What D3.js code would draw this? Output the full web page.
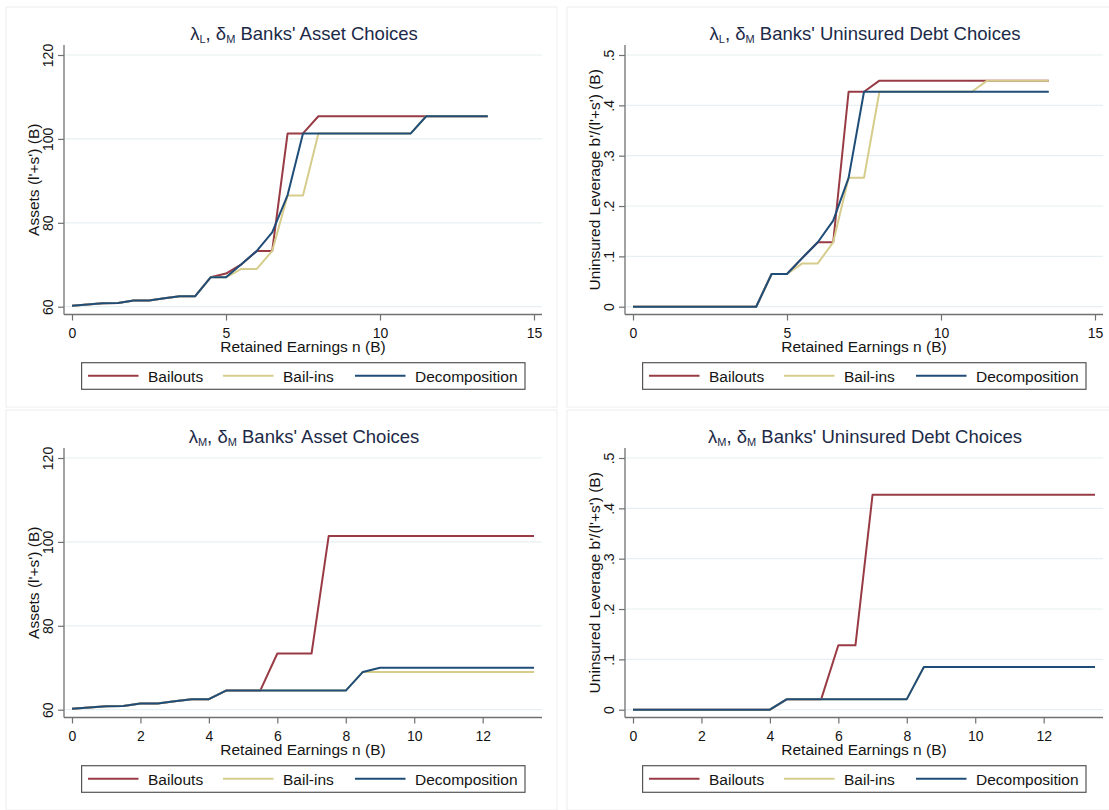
<!DOCTYPE html>
<html>
<head>
<meta charset="utf-8">
<script src="https://cdn.jsdelivr.net/npm/d3@7"></script>
<style>
  html, body { margin: 0; padding: 0; background: #ffffff; }
  svg text { font-family: "Liberation Sans", Arial, sans-serif; }
</style>
</head>
<body>
<script>
// Retained earnings grid (B)
const earnings = [0, 0.5, 1, 1.5, 2, 2.5, 3, 3.5, 4, 4.5, 5, 5.5, 6, 6.5, 7, 7.5,
                  8, 8.5, 9, 9.5, 10, 10.5, 11, 11.5, 12, 12.5, 13, 13.5];

const seriesNames = ["Bailouts", "Bail-ins", "Decomposition"];
const seriesColors = ["#983b44", "#d6cc8c", "#1f4d77"];

// λL, δM banks: assets (l'+s')
const assetsL_bailouts = [60.2, 60.5, 60.8, 60.9, 61.5, 61.5, 62.0, 62.5, 62.5, 67.0, 67.9, 70.1, 73.3, 73.3,
                          101.3, 101.3, 105.4, 105.4, 105.4, 105.4, 105.4, 105.4, 105.4, 105.4, 105.4, 105.4, 105.4, 105.4];
const assetsL_bailins  = [60.2, 60.5, 60.8, 60.9, 61.5, 61.5, 62.0, 62.5, 62.5, 67.0, 67.0, 69.0, 69.0, 73.3,
                          86.5, 86.5, 101.3, 101.3, 101.3, 101.3, 101.3, 101.3, 101.3, 105.4, 105.4, 105.4, 105.4, 105.4];
const assetsL_decomp   = [60.2, 60.5, 60.8, 60.9, 61.5, 61.5, 62.0, 62.5, 62.5, 67.0, 67.0, 70.1, 73.3, 77.7,
                          86.6, 101.3, 101.3, 101.3, 101.3, 101.3, 101.3, 101.3, 101.3, 105.4, 105.4, 105.4, 105.4, 105.4];

// λL, δM banks: uninsured leverage b'/(l'+s')
const debtL_bailouts = [0, 0, 0, 0, 0, 0, 0, 0, 0, 0.065, 0.065, 0.097, 0.128, 0.128,
                        0.427, 0.427, 0.449, 0.449, 0.449, 0.449, 0.449, 0.449, 0.449, 0.449, 0.449, 0.449, 0.449, 0.449];
const debtL_bailins  = [0, 0, 0, 0, 0, 0, 0, 0, 0, 0.065, 0.065, 0.086, 0.086, 0.128,
                        0.256, 0.256, 0.427, 0.427, 0.427, 0.427, 0.427, 0.427, 0.427, 0.449, 0.449, 0.449, 0.449, 0.449];
const debtL_decomp   = [0, 0, 0, 0, 0, 0, 0, 0, 0, 0.065, 0.065, 0.097, 0.128, 0.171,
                        0.256, 0.427, 0.427, 0.427, 0.427, 0.427, 0.427, 0.427, 0.427, 0.427, 0.427, 0.427, 0.427, 0.427];

// λM, δM banks: assets (l'+s')
const assetsM_bailouts = [60.2, 60.5, 60.8, 60.9, 61.5, 61.5, 62.0, 62.5, 62.5, 64.55, 64.55, 64.55, 73.4, 73.4,
                          73.4, 101.4, 101.4, 101.4, 101.4, 101.4, 101.4, 101.4, 101.4, 101.4, 101.4, 101.4, 101.4, 101.4];
const assetsM_bailins  = [60.2, 60.5, 60.8, 60.9, 61.5, 61.5, 62.0, 62.5, 62.5, 64.55, 64.55, 64.55, 64.55, 64.55,
                          64.55, 64.55, 64.55, 69.0, 69.0, 69.0, 69.0, 69.0, 69.0, 69.0, 69.0, 69.0, 69.0, 69.0];
const assetsM_decomp   = [60.2, 60.5, 60.8, 60.9, 61.5, 61.5, 62.0, 62.5, 62.5, 64.55, 64.55, 64.55, 64.55, 64.55,
                          64.55, 64.55, 64.55, 69.0, 70.0, 70.0, 70.0, 70.0, 70.0, 70.0, 70.0, 70.0, 70.0, 70.0];

// λM, δM banks: uninsured leverage b'/(l'+s')
const debtM_bailouts = [0, 0, 0, 0, 0, 0, 0, 0, 0, 0.021, 0.021, 0.021, 0.128, 0.128,
                        0.427, 0.427, 0.427, 0.427, 0.427, 0.427, 0.427, 0.427, 0.427, 0.427, 0.427, 0.427, 0.427, 0.427];
const debtM_bailins  = [0, 0, 0, 0, 0, 0, 0, 0, 0, 0.021, 0.021, 0.021, 0.021, 0.021,
                        0.021, 0.021, 0.021, 0.085, 0.085, 0.085, 0.085, 0.085, 0.085, 0.085, 0.085, 0.085, 0.085, 0.085];
const debtM_decomp   = [0, 0, 0, 0, 0, 0, 0, 0, 0, 0.021, 0.021, 0.021, 0.021, 0.021,
                        0.021, 0.021, 0.021, 0.085, 0.085, 0.085, 0.085, 0.085, 0.085, 0.085, 0.085, 0.085, 0.085, 0.085];

// Axis ticks
const xTicksWide = [0, 5, 10, 15];
const xTicksNarrow = [0, 2, 4, 6, 8, 10, 12];
const assetTicks = [60, 80, 100, 120];
const assetTickLabels = ["60", "80", "100", "120"];
const debtTicks = [0, 0.1, 0.2, 0.3, 0.4, 0.5];
const debtTickLabels = ["0", ".1", ".2", ".3", ".4", ".5"];

const assetTitle = "Assets (l'+s') (B)";
const debtTitle = "Uninsured Leverage b'/(l'+s') (B)";
const xTitle = "Retained Earnings n (B)";

const panels = [
  { dx: 0,   dy: 0,   lam: "L", kind: "Asset Choices", xMax: 15, xTicks: xTicksWide,
    yDomain: [60, 120], yTicks: assetTicks, yLabels: assetTickLabels, yTitle: assetTitle,
    series: [assetsL_bailouts, assetsL_bailins, assetsL_decomp] },
  { dx: 561, dy: 0,   lam: "L", kind: "Uninsured Debt Choices", xMax: 15, xTicks: xTicksWide,
    yDomain: [0, 0.5], yTicks: debtTicks, yLabels: debtTickLabels, yTitle: debtTitle,
    series: [debtL_bailouts, debtL_bailins, debtL_decomp] },
  { dx: 0,   dy: 403, lam: "M", kind: "Asset Choices", xMax: 13.5, xTicks: xTicksNarrow,
    yDomain: [60, 120], yTicks: assetTicks, yLabels: assetTickLabels, yTitle: assetTitle,
    series: [assetsM_bailouts, assetsM_bailins, assetsM_decomp] },
  { dx: 561, dy: 403, lam: "M", kind: "Uninsured Debt Choices", xMax: 13.5, xTicks: xTicksNarrow,
    yDomain: [0, 0.5], yTicks: debtTicks, yLabels: debtTickLabels, yTitle: debtTitle,
    series: [debtM_bailouts, debtM_bailins, debtM_decomp] }
];

// Panel geometry (local coordinates)
const frame = { x: 6, y: 7, w: 551, h: 400 };
const plot = { left: 64, right: 542, top: 45, bottom: 314.5 };
const xRange = [72, 534];
const yRange = [306.7, 55];

const axisColor = "#707070";
const gridColor = "#e6eff1";
const textColor = "#141414";
const titleColor = "#1c2a48";

const svg = d3.select("body").append("svg")
  .attr("width", 1109).attr("height", 810);

svg.append("rect").attr("width", 1109).attr("height", 810).attr("fill", "#ffffff");

panels.forEach(p => {
  const g = svg.append("g").attr("transform", `translate(${p.dx},${p.dy})`);

  // faint graph outline
  g.append("rect")
    .attr("x", frame.x).attr("y", frame.y).attr("width", frame.w).attr("height", frame.h)
    .attr("fill", "none").attr("stroke", "#eeeeee").attr("stroke-width", 1);

  const x = d3.scaleLinear().domain([0, p.xMax]).range(xRange);
  const y = d3.scaleLinear().domain(p.yDomain).range(yRange);

  // horizontal grid lines
  g.append("g").selectAll("line").data(p.yTicks).join("line")
    .attr("x1", plot.left + 1).attr("x2", plot.right)
    .attr("y1", d => y(d)).attr("y2", d => y(d))
    .attr("stroke", gridColor).attr("stroke-width", 1.2);

  // y axis
  const yAxis = g.append("g").attr("transform", `translate(${plot.left},0)`)
    .call(d3.axisLeft(y).tickValues(p.yTicks).tickFormat((d, i) => p.yLabels[i])
      .tickSize(6).tickSizeOuter(0).tickPadding(0));
  yAxis.select(".domain").remove();
  yAxis.selectAll(".tick line").attr("stroke", axisColor).attr("stroke-width", 1.2);
  yAxis.selectAll(".tick text")
    .attr("x", null).attr("dy", null)
    .attr("transform", "translate(-11.5,0) rotate(-90)")
    .attr("text-anchor", "middle")
    .attr("fill", textColor).attr("font-size", 14);
  g.append("line")
    .attr("x1", plot.left).attr("x2", plot.left)
    .attr("y1", plot.top).attr("y2", plot.bottom)
    .attr("stroke", axisColor).attr("stroke-width", 1.3);

  // x axis
  const xAxis = g.append("g").attr("transform", `translate(0,${plot.bottom})`)
    .call(d3.axisBottom(x).tickValues(p.xTicks).tickFormat(d3.format("d"))
      .tickSize(6).tickSizeOuter(0));
  xAxis.select(".domain").remove();
  xAxis.selectAll(".tick line").attr("stroke", axisColor).attr("stroke-width", 1.2);
  xAxis.selectAll(".tick text")
    .attr("y", 23).attr("dy", null)
    .attr("fill", textColor).attr("font-size", 14);
  g.append("line")
    .attr("x1", plot.left).attr("x2", plot.right)
    .attr("y1", plot.bottom).attr("y2", plot.bottom)
    .attr("stroke", axisColor).attr("stroke-width", 1.3);

  const cx = (plot.left + plot.right) / 2;

  // axis titles
  g.append("text")
    .attr("x", cx).attr("y", 352)
    .attr("text-anchor", "middle").attr("font-size", 15.5).attr("fill", textColor)
    .text(xTitle);
  g.append("text")
    .attr("transform", `translate(39,${(plot.top + plot.bottom) / 2}) rotate(-90)`)
    .attr("text-anchor", "middle").attr("font-size", 15.5).attr("fill", textColor)
    .text(p.yTitle);

  // chart title with subscripts
  const title = g.append("text")
    .attr("x", cx + 1).attr("y", 40)
    .attr("text-anchor", "middle").attr("font-size", 18.5).attr("fill", titleColor);
  title.append("tspan").text("λ");
  title.append("tspan").attr("font-size", 11).attr("dy", 3).text(p.lam);
  title.append("tspan").attr("dy", -3).text(", δ");
  title.append("tspan").attr("font-size", 11).attr("dy", 3).text("M");
  title.append("tspan").attr("dy", -3).text(" Banks' " + p.kind);

  // data lines
  const line = d3.line()
    .x((d, i) => x(earnings[i]))
    .y(d => y(d));
  p.series.forEach((vals, si) => {
    g.append("path")
      .datum(vals)
      .attr("fill", "none")
      .attr("stroke", seriesColors[si])
      .attr("stroke-width", 2)
      .attr("stroke-linejoin", "round")
      .attr("d", line);
  });

  // legend
  const lg = g.append("g");
  lg.append("rect")
    .attr("x", 81.6).attr("y", 362.7).attr("width", 443.4).attr("height", 26.6)
    .attr("fill", "#ffffff").attr("stroke", "#555555").attr("stroke-width", 1.2);
  const keyX = [88, 223, 355];
  const keyW = 50.5;
  seriesNames.forEach((name, si) => {
    lg.append("line")
      .attr("x1", keyX[si]).attr("x2", keyX[si] + keyW)
      .attr("y1", 375.8).attr("y2", 375.8)
      .attr("stroke", seriesColors[si]).attr("stroke-width", 2);
    lg.append("text")
      .attr("x", keyX[si] + keyW + 9.5).attr("y", 381.5)
      .attr("font-size", 15.5).attr("fill", textColor)
      .text(name);
  });
});
</script>
</body>
</html>
